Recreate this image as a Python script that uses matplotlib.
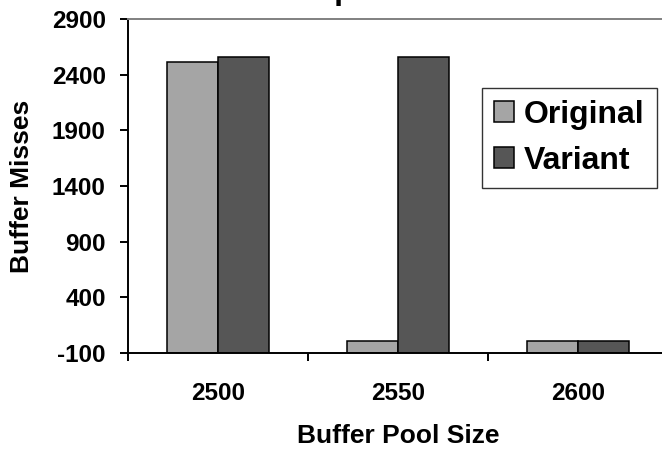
import numpy as np
import matplotlib
matplotlib.use('Agg')
import matplotlib.pyplot as plt

# --- dados ----------------------------------------------------------------
POOL_SIZES = ['2500', '2550', '2600']
ORIGINAL = [2510, 10, 10]
VARIANT = [2560, 2560, 10]
Y_TICKS = [-100, 400, 900, 1400, 1900, 2400, 2900]

YMIN, YMAX = -100, 2900
W = 0.285

plt.rcParams['font.family'] = ['Liberation Sans', 'DejaVu Sans']
plt.rcParams['font.weight'] = 'bold'
plt.rcParams['axes.labelweight'] = 'bold'
plt.rcParams['axes.unicode_minus'] = False

fig = plt.figure(figsize=(6.62, 4.51), dpi=100)
ax = fig.add_axes([128 / 662, 98 / 451, 540 / 662, 334 / 451])

x = np.arange(len(POOL_SIZES))
# barras saem do eixo em -100, como no Excel
ax.bar(x - W / 2, np.array(ORIGINAL) - YMIN, W, bottom=YMIN,
       color='#a5a5a5', edgecolor='black', lw=1.1, label='Original')
ax.bar(x + W / 2, np.array(VARIANT) - YMIN, W, bottom=YMIN,
       color='#565656', edgecolor='black', lw=1.1, label='Variant')

ax.set_xlim(-0.5, len(POOL_SIZES) - 0.5)
ax.set_ylim(YMIN, YMAX)
ax.set_yticks(Y_TICKS)
ax.set_xticks(x)
ax.set_xticklabels(POOL_SIZES)
ax.set_xticks(np.arange(len(POOL_SIZES) + 1) - 0.5, minor=True)
ax.tick_params(axis='x', which='major', length=0, pad=21, labelsize=17.5)
ax.tick_params(axis='x', which='minor', length=6, width=1.4, direction='out')
ax.tick_params(axis='y', length=6, width=1.4, pad=10, labelsize=17.5)

for s in ('left', 'bottom'):
    ax.spines[s].set_linewidth(1.4)
ax.spines['top'].set_color('#808080')
ax.spines['top'].set_linewidth(1.4)
ax.spines['right'].set_visible(False)

ax.set_xlabel('Buffer Pool Size', fontsize=19, va='baseline')
ax.xaxis.set_label_coords(0.5, -0.269)
ax.set_ylabel('Buffer Misses', fontsize=19, va='center')
ax.yaxis.set_label_coords(-0.196, 0.5)

# titulo cortado no topo, como na imagem original
fig.text(395 / 662, 1 + 1 / 451, 'Experiment 3', ha='center',
         va='baseline', fontsize=23)

leg = ax.legend(loc='lower left', bbox_to_anchor=(482 / 662, 1 - 188 / 451),
                bbox_transform=fig.transFigure, fontsize=23, frameon=True,
                fancybox=False, borderpad=0.38, borderaxespad=0,
                handlelength=0.63, handleheight=0.63, handletextpad=0.31,
                labelspacing=0.5)
leg.get_frame().set_edgecolor('black')
leg.get_frame().set_linewidth(1.0)

fig.savefig('out.png', dpi=100)
